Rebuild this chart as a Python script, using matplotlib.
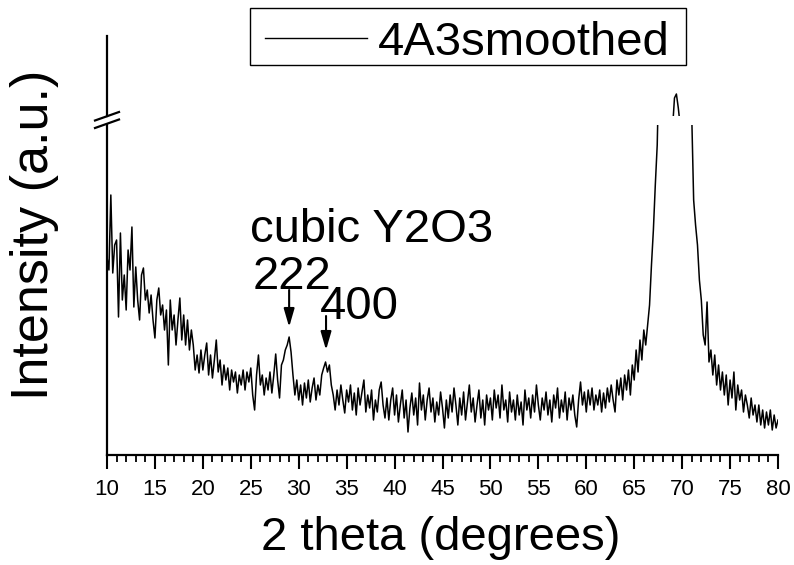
import numpy as np
import matplotlib
matplotlib.use('Agg')
import matplotlib.pyplot as plt
from matplotlib.lines import Line2D
from matplotlib.patches import Rectangle
from matplotlib.ticker import MultipleLocator

plt.rcParams['font.family'] = ['Liberation Sans', 'DejaVu Sans']

# ---------------- data ----------------
two_theta = np.round(np.arange(10.0, 80.0001, 0.2), 1)

intensity = [
    198, 185, 260, 182, 210, 215, 138, 222, 155, 180, 145, 205, 185, 228, 148, 188, 155, 135, 180, 187, 155,
    165, 142, 160, 135, 117, 155, 167, 140, 150, 125, 145, 90, 155, 125, 140, 110, 135, 157, 115, 140,
    110, 135, 105, 125, 110, 85, 100, 82, 105, 85, 100, 112, 80, 100, 77, 95, 115, 83, 95, 70,
    90, 75, 87, 65, 85, 73, 83, 62, 80, 70, 85, 65, 83, 73, 87, 60, 45, 80, 100, 70,
    80, 60, 77, 65, 83, 62, 80, 101, 75, 57, 90, 95, 105, 110, 118, 103, 80, 60, 75, 55,
    70, 50, 72, 57, 75, 53, 67, 77, 55, 70, 60, 80, 87, 93, 83, 90, 70, 60, 45, 65,
    50, 70, 55, 42, 65, 53, 70, 45, 62, 40, 67, 50, 63, 75, 43, 60, 47, 65, 35, 55,
    43, 65, 73, 50, 37, 57, 35, 55, 67, 40, 60, 33, 50, 65, 37, 55, 23, 47, 62, 40,
    57, 30, 72, 45, 60, 35, 55, 67, 43, 57, 33, 53, 40, 63, 47, 27, 55, 37, 60, 43,
    67, 50, 30, 57, 40, 63, 35, 53, 70, 43, 57, 33, 50, 65, 37, 55, 30, 60, 45, 57,
    35, 65, 47, 60, 37, 70, 45, 55, 33, 63, 43, 55, 35, 60, 40, 53, 30, 65, 45, 57,
    37, 60, 43, 70, 50, 35, 57, 45, 63, 40, 55, 33, 60, 47, 67, 37, 55, 43, 63, 35,
    57, 45, 60, 40, 28, 55, 73, 50, 63, 43, 65, 50, 67, 45, 60, 50, 65, 43, 62, 47,
    67, 53, 70, 55, 43, 75, 60, 77, 55, 80, 65, 85, 60, 90, 75, 105, 83, 115, 95, 125,
    110, 130, 150, 190, 225, 270, 310, 400, 510, 620, 720, 790, 840, 870, 888, 918, 922, 908, 890, 830,
    720, 600, 490, 400, 340, 255, 230, 210, 175, 155, 120, 110, 153, 93, 105, 80, 100, 70, 90, 65,
    83, 60, 80, 50, 75, 57, 83, 45, 70, 55, 65, 43, 60, 50, 37, 57, 40, 50, 33, 50,
    30, 45, 27, 43, 30, 45, 25, 40, 27, 35,
]

series_label = '4A3smoothed'
x_label = '2 theta (degrees)'
y_label = 'Intensity (a.u.)'
x_ticks = list(range(10, 81, 5))
lower_ylim = (0, 330)
upper_ylim = (900, 980)

ann_title = 'cubic Y2O3'
peak_labels = ['222', '400']
peak_pos = [29.0, 32.85]

# ---------------- figure ----------------
W, H = 794, 565
fig = plt.figure(figsize=(W / 100, H / 100), dpi=100)


def fx(px):
    return px / W


def fy(py):
    return 1 - py / H


ax = fig.add_axes([fx(107), fy(455), fx(778) - fx(107), fy(125) - fy(455)])
ax_top = fig.add_axes([fx(107), fy(116), fx(778) - fx(107), fy(36) - fy(116)])

for a in (ax, ax_top):
    a.plot(two_theta, intensity, color='black', lw=1.1)
    a.set_xlim(10, 80)
    for s in ('top', 'right'):
        a.spines[s].set_visible(False)
    a.spines['left'].set_linewidth(1.6)
    a.set_yticks([])
    a.patch.set_alpha(0)

ax.set_ylim(*lower_ylim)
ax_top.set_ylim(*upper_ylim)
ax_top.spines['bottom'].set_visible(False)
ax_top.set_xticks([])

ax.spines['bottom'].set_linewidth(1.6)
ax.set_xticks(x_ticks)
ax.xaxis.set_minor_locator(MultipleLocator(1))
ax.tick_params(axis='x', which='major', direction='out', length=10, width=1.5,
               labelsize=16, pad=7)
ax.tick_params(axis='x', which='minor', direction='out', length=5, width=1.3)

ax.set_xlabel(x_label, fontsize=34)
ax.xaxis.set_label_coords(0.498, -0.185)
ax.set_ylabel(y_label, fontsize=37.5)
ax.yaxis.set_label_coords(-0.072, 0.667)

# break marks on the y axis
for (x0, y0, x1, y1) in [(95, 120.5, 119, 112), (95, 128, 119, 119.5)]:
    fig.add_artist(Line2D([fx(x0), fx(x1)], [fy(y0), fy(y1)], color='black', lw=1.6,
                          transform=fig.transFigure))

# annotations
ax.text(24.9, 213, ann_title, fontsize=34, va='baseline', ha='left')
ax.text(25.2, 166, peak_labels[0], fontsize=34, va='baseline', ha='left')
ax.text(32.2, 136, peak_labels[1], fontsize=34, va='baseline', ha='left')
arrow_props = dict(arrowstyle='-|>,head_length=0.55,head_width=0.16', lw=1.5,
                   color='black', mutation_scale=20, shrinkA=0, shrinkB=0)
ax.annotate('', xy=(peak_pos[0], 128), xytext=(peak_pos[0], 165), arrowprops=arrow_props)
ax.annotate('', xy=(peak_pos[1], 105), xytext=(peak_pos[1], 139), arrowprops=arrow_props)

# legend box
fig.add_artist(Rectangle((fx(250), fy(65)), fx(686) - fx(250), fy(8) - fy(65),
                         transform=fig.transFigure, fill=False, lw=1.0, ec='black'))
fig.add_artist(Line2D([fx(265), fx(367)], [fy(38), fy(38)], color='black', lw=1.0,
                      transform=fig.transFigure))
fig.text(fx(378), fy(55), series_label, fontsize=34, va='baseline', ha='left')

fig.savefig('out.png', dpi=100)
